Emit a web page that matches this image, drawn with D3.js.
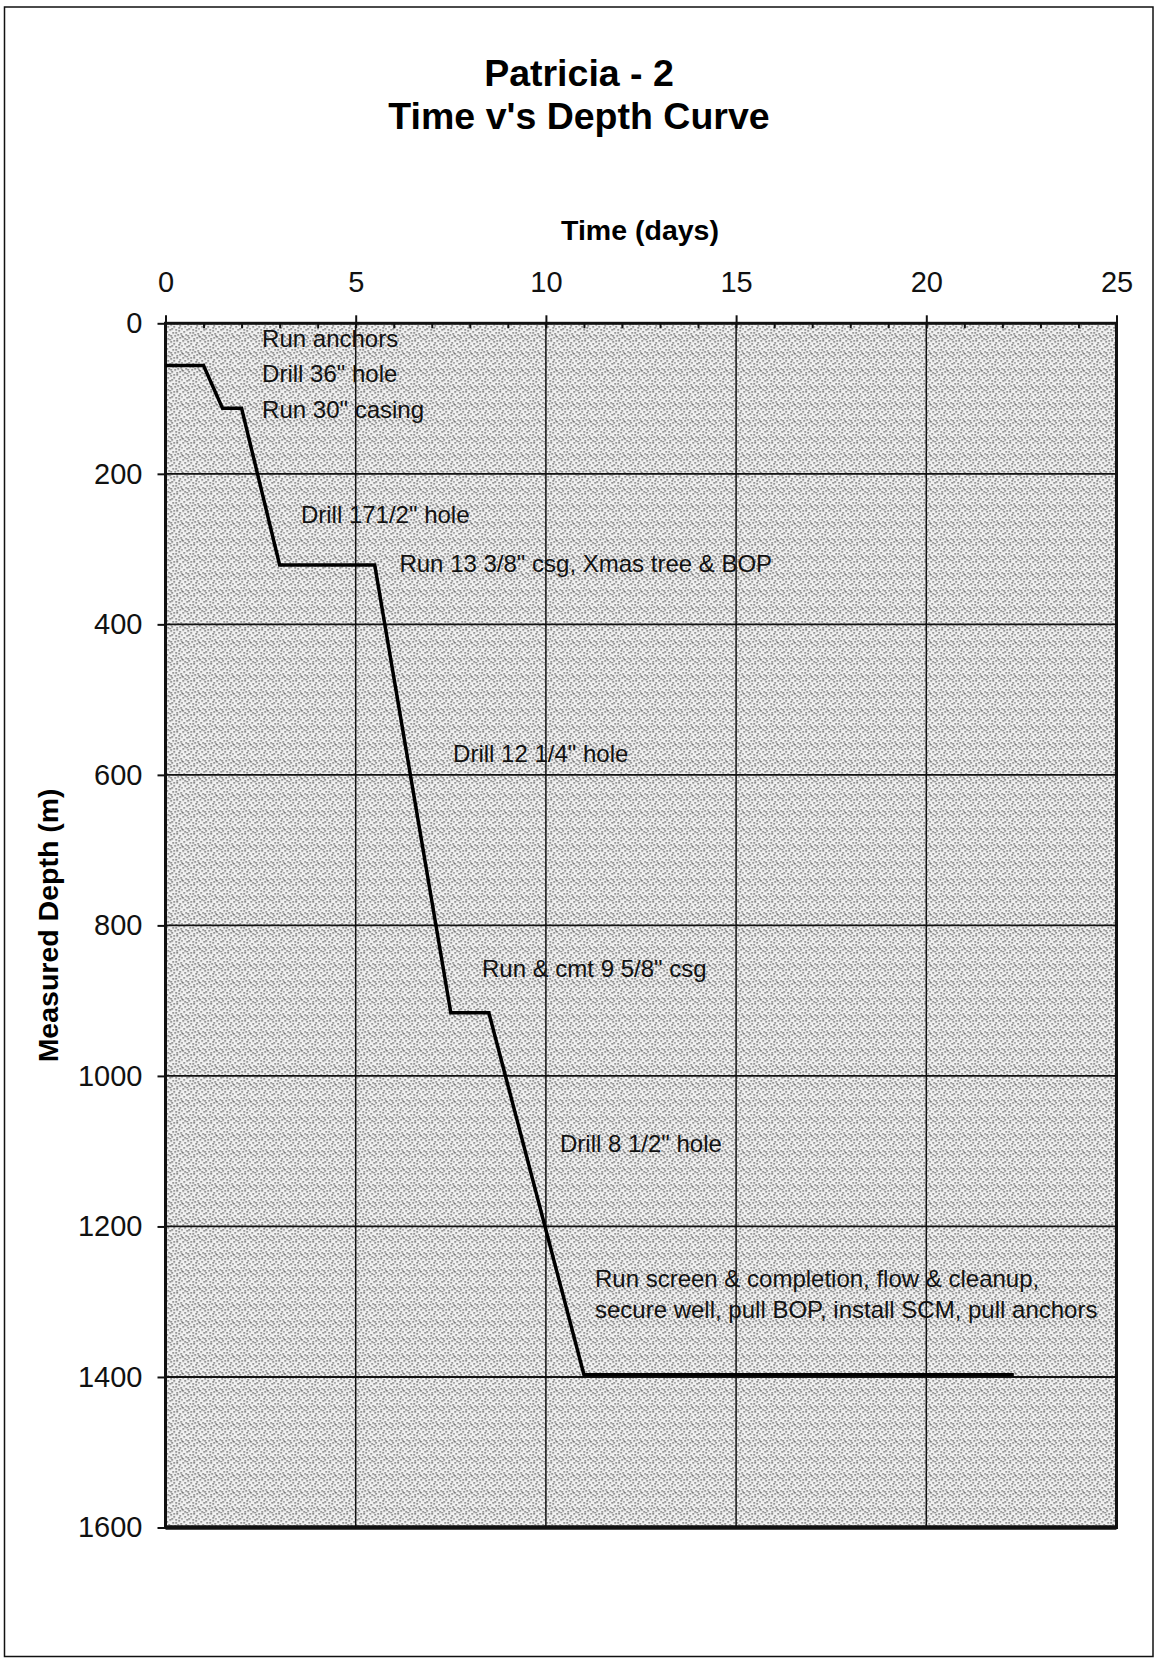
<!DOCTYPE html>
<html>
<head>
<meta charset="utf-8">
<script src="https://cdn.jsdelivr.net/npm/d3@7/dist/d3.min.js"></script>
<style>
body{margin:0;background:#fff;}
svg{display:block;font-family:"Liberation Sans",Arial,sans-serif;}
</style>
</head>
<body>
<div id="chart"></div>
<script>
// time vs depth points
let days = [0, 1, 1.5, 2, 3, 5.5, 7.5, 8.5, 11, 22.3];
let depths = [56, 56, 113, 113, 321, 321, 916, 916, 1397, 1397];

let xTicks = [0, 5, 10, 15, 20, 25];
let yTicks = [0, 200, 400, 600, 800, 1000, 1200, 1400, 1600];

// operation notes, anchored in days / metres
let notes = ["Run anchors", "Drill 36\" hole", "Run 30\" casing", "Drill 171/2\" hole",
             "Run 13 3/8\" csg, Xmas tree & BOP", "Drill 12 1/4\" hole", "Run & cmt 9 5/8\" csg",
             "Drill 8 1/2\" hole", "Run screen & completion, flow & cleanup,",
             "secure well, pull BOP, install SCM, pull anchors"];
let noteDays = [2.54, 2.54, 2.54, 3.56, 6.15, 7.56, 8.32, 10.37, 11.29, 11.29];
let noteDepths = [31.5, 78, 126, 265, 330, 583, 869, 1101, 1280, 1322];

let titleLines = ["Patricia - 2", "Time v's Depth Curve"];

let containerWidth = 1156, containerHeight = 1658;
let margin = {left:165.5, right:containerWidth-1116.5, top:323.3, bottom:containerHeight-1527.5},
    width = containerWidth - margin.left - margin.right,
    height = containerHeight - margin.top - margin.bottom;

let root = d3.select('#chart')
             .append('svg')
             .attr('width', containerWidth)
             .attr('height', containerHeight);

//outer frame
root.append('rect')
    .attr('x', 4.5).attr('y', 7)
    .attr('width', 1148.5).attr('height', 1649.5)
    .attr('fill', 'none').attr('stroke', '#111').attr('stroke-width', 1.5);

//stipple pattern (fixed dot layout)
let pat = root.append('defs').append('pattern')
              .attr('id', 'stip').attr('patternUnits', 'userSpaceOnUse')
              .attr('width', 17).attr('height', 17);
pat.append('rect').attr('width', 17).attr('height', 17).attr('fill', '#f2f2f2');
[[0,0],[5,1],[11,0],[14,2],[2,3],[8,3],[16,5],[4,6],[10,6],[13,7],[1,8],[7,9],
 [15,10],[3,11],[9,12],[12,11],[0,13],[6,14],[14,14],[4,16],[11,15],[16,12],
 [8,0],[2,15],[13,4],[6,5],[10,9],[5,12]].forEach(function(p){
    pat.append('rect').attr('x', p[0]).attr('y', p[1]).attr('width', 1.3).attr('height', 1.3).attr('fill', '#2a2a2a');
});

//titles
root.selectAll('.title')
    .data(titleLines)
    .enter()
    .append('text')
    .attr('class', 'title')
    .attr('x', 579)
    .attr('y', function(d, i){ return 86 + i*43; })
    .attr('text-anchor', 'middle')
    .style('font-size', '37.5px')
    .style('font-weight', 'bold')
    .text(function(d){ return d; });

let svg = root.append('g')
              .attr('transform', 'translate(' + margin.left + ',' + margin.top + ')');

//define scale
let xScale = d3.scaleLinear().domain([0, 25]).range([0, width]);
let yScale = d3.scaleLinear().domain([0, 1600]).range([0, height]);

svg.append('rect')
   .attr('width', width).attr('height', height)
   .attr('fill', 'url(#stip)');

//grid
svg.selectAll('.hgrid')
   .data(yTicks.slice(1, -1))
   .enter()
   .append('line')
   .attr('x1', 0).attr('x2', width)
   .attr('y1', function(d){ return yScale(d); })
   .attr('y2', function(d){ return yScale(d); })
   .attr('stroke', '#111').attr('stroke-width', 1.8);

svg.selectAll('.vgrid')
   .data(xTicks.slice(1, -1))
   .enter()
   .append('line')
   .attr('y1', 0).attr('y2', height)
   .attr('x1', function(d){ return xScale(d); })
   .attr('x2', function(d){ return xScale(d); })
   .attr('stroke', '#111').attr('stroke-width', 1.5);

//axes
let xAxis = d3.axisTop(xScale).tickValues(xTicks).tickSize(8).tickPadding(23);
let xMinor = d3.axisTop(xScale).tickValues(d3.range(0, 26)).tickSize(-5).tickFormat('');
let yAxis = d3.axisLeft(yScale).tickValues(yTicks).tickSize(8).tickPadding(15).tickFormat(d3.format('d'));

let gx = svg.append('g').call(xAxis);
let gm = svg.append('g').call(xMinor);
let gy = svg.append('g').call(yAxis);
[gx, gm, gy].forEach(function(g){
    g.select('.domain').remove();
    g.selectAll('line').attr('stroke', '#111').attr('stroke-width', 2);
    g.selectAll('text').attr('fill', '#111').style('font-size', '29px').style('font-family', '"Liberation Sans",Arial,sans-serif');
});

//plot border
svg.append('rect')
   .attr('width', width).attr('height', height)
   .attr('fill', 'none').attr('stroke', '#111').attr('stroke-width', 3);
svg.append('line')
   .attr('x1', 0).attr('x2', width)
   .attr('y1', height).attr('y2', height)
   .attr('stroke', '#111').attr('stroke-width', 4.5);

//axis titles
svg.append('text')
   .attr('x', width/2 - 1).attr('y', 240 - margin.top)
   .attr('text-anchor', 'middle')
   .style('font-size', '28.5px').style('font-weight', 'bold')
   .text('Time (days)');

svg.append('text')
   .attr('transform', 'translate(' + (58 - margin.left) + ',' + height/2 + ') rotate(-90)')
   .attr('text-anchor', 'middle')
   .style('font-size', '28.5px').style('font-weight', 'bold')
   .text('Measured Depth (m)');

//curve
let line = d3.line()
             .x(function(d, i){ return xScale(days[i]); })
             .y(function(d){ return yScale(d); });

svg.append('path')
   .datum(depths)
   .attr('d', line)
   .attr('fill', 'none')
   .attr('stroke', '#000')
   .attr('stroke-width', 3.5)
   .attr('stroke-linejoin', 'miter');

//notes
svg.selectAll('.note')
   .data(notes)
   .enter()
   .append('text')
   .attr('class', 'note')
   .attr('x', function(d, i){ return xScale(noteDays[i]); })
   .attr('y', function(d, i){ return yScale(noteDepths[i]); })
   .style('font-size', '24px')
   .attr('fill', '#111')
   .text(function(d){ return d; });
</script>
</body>
</html>
